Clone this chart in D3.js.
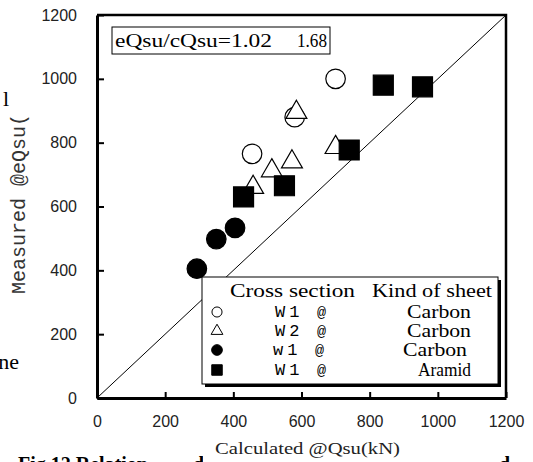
<!DOCTYPE html>
<html>
<head>
<meta charset="utf-8">
<script src="https://cdn.jsdelivr.net/npm/d3@7"></script>
<style>
  body { margin: 0; background: #fff; }
  svg { display: block; }
  .tick text { font-family: "Liberation Sans", Arial, sans-serif; font-size: 16px; fill: #222; }
  .serif { font-family: "Liberation Serif", "Times New Roman", serif; }
  .mono { font-family: "Liberation Mono", "Courier New", monospace; }
</style>
</head>
<body>
<svg id="chart" width="533" height="462"></svg>
<script>
// calculated Qsu (kN) vs measured eQsu (kN)
var w1CarbonX = [700, 580, 455];
var w1CarbonY = [1000, 880, 765];
var w2CarbonX = [585, 572, 513, 700, 458];
var w2CarbonY = [895, 740, 712, 785, 660];
var w1sCarbonX = [405, 350, 293];
var w1sCarbonY = [533, 498, 405];
var w1AramidX = [840, 955, 740, 550, 430];
var w1AramidY = [980, 975, 777, 665, 630];

var tickValues = [0, 200, 400, 600, 800, 1000, 1200];
var legendSection = ["W1", "W2", "w1", "W1"];
var legendSheet = ["Carbon", "Carbon", "Carbon", "Aramid"];

var svg = d3.select("#chart");

// caption of the page, mostly hidden below the figure
var cap = svg.append("text").attr("class", "serif")
  .attr("y", 471).attr("font-size", 20).attr("font-weight", "bold");
cap.append("tspan").attr("x", 18).text("Fig.12 Relation");
cap.append("tspan").attr("x", 193).text("d");
cap.append("tspan").attr("x", 499).text("d");

var x = d3.scaleLinear().domain([0, 1200]).range([97, 506]);
var y = d3.scaleLinear().domain([0, 1200]).range([398, 15]);

// 1:1 line
svg.append("line")
  .attr("x1", x(0)).attr("y1", y(0))
  .attr("x2", x(1200)).attr("y2", y(1200))
  .attr("stroke", "#000").attr("stroke-width", 1);

// frame top + right
svg.append("path")
  .attr("d", "M" + x(0) + "," + y(1200) + "H" + x(1200) + "V" + y(0))
  .attr("fill", "none").attr("stroke", "#000").attr("stroke-width", 2.5);

var xAxis = svg.append("g")
  .attr("transform", "translate(0," + y(0) + ")")
  .call(d3.axisBottom(x).tickValues(tickValues).tickFormat(d3.format("d"))
    .tickSizeInner(-6).tickSizeOuter(0).tickPadding(18));
var yAxis = svg.append("g")
  .attr("transform", "translate(" + x(0) + ",0)")
  .call(d3.axisLeft(y).tickValues(tickValues).tickFormat(d3.format("d"))
    .tickSizeInner(-7).tickSizeOuter(0).tickPadding(20));

[xAxis, yAxis].forEach(function (a) {
  a.select(".domain").attr("stroke-width", 3);
  a.selectAll(".tick line").attr("stroke-width", 2);
});

// points
function drawSet(xs, ys, type, size, filled) {
  svg.append("g").selectAll("path")
    .data(xs)
    .enter().append("path")
    .attr("transform", function (d, i) { return "translate(" + x(d) + "," + y(ys[i]) + ")"; })
    .attr("d", d3.symbol().type(type).size(size))
    .attr("fill", filled ? "#000" : "#fff")
    .attr("stroke", "#000")
    .attr("stroke-width", 1.2);
}
drawSet(w1CarbonX, w1CarbonY, d3.symbolCircle, 300, false);
drawSet(w2CarbonX, w2CarbonY, d3.symbolTriangle, 190, false);
drawSet(w1sCarbonX, w1sCarbonY, d3.symbolCircle, 300, true);
drawSet(w1AramidX, w1AramidY, d3.symbolSquare, 400, true);

// ratio box
svg.append("rect")
  .attr("x", 112).attr("y", 27).attr("width", 218).attr("height", 27)
  .attr("fill", "#fff").attr("stroke", "#000").attr("stroke-width", 1);
svg.append("text").attr("class", "serif")
  .attr("x", 115).attr("y", 47).attr("font-size", 18)
  .attr("textLength", 157).attr("lengthAdjust", "spacingAndGlyphs")
  .text("eQsu/cQsu=1.02");
svg.append("text").attr("class", "serif")
  .attr("x", 297).attr("y", 47).attr("font-size", 18)
  .attr("textLength", 30).attr("lengthAdjust", "spacingAndGlyphs")
  .text("1.68");

// legend
var lg = svg.append("g");
lg.append("rect")
  .attr("x", 205).attr("y", 280).attr("width", 296).attr("height", 107)
  .attr("fill", "#000");
lg.append("rect")
  .attr("x", 202).attr("y", 277).attr("width", 296).attr("height", 107)
  .attr("fill", "#fff").attr("stroke", "#000").attr("stroke-width", 1);
lg.append("text").attr("class", "serif")
  .attr("x", 230).attr("y", 297).attr("font-size", 18)
  .attr("textLength", 125).attr("lengthAdjust", "spacingAndGlyphs")
  .text("Cross section");
lg.append("text").attr("class", "serif")
  .attr("x", 372).attr("y", 297).attr("font-size", 18)
  .attr("textLength", 120).attr("lengthAdjust", "spacingAndGlyphs")
  .text("Kind of sheet");

var rowY = [312, 331, 350, 370];
var legTypes = [d3.symbolCircle, d3.symbolTriangle, d3.symbolCircle, d3.symbolSquare];
var legSizes = [80, 60, 90, 110];
var legFill = [false, false, true, true];
legendSection.forEach(function (s, i) {
  var dx = i == 2 ? -2 : 0;
  lg.append("path")
    .attr("transform", "translate(217," + rowY[i] + ")")
    .attr("d", d3.symbol().type(legTypes[i]).size(legSizes[i]))
    .attr("fill", legFill[i] ? "#000" : "#fff")
    .attr("stroke", "#000").attr("stroke-width", 1);
  lg.append("text").attr("class", "mono")
    .attr("x", 275 + dx).attr("y", rowY[i] + 5).attr("font-size", 17)
    .attr("letter-spacing", 4)
    .text(s);
  lg.append("text").attr("class", "mono")
    .attr("x", 317 + dx).attr("y", rowY[i] + 5).attr("font-size", 15)
    .text("@");
  lg.append("text").attr("class", "serif")
    .attr("x", 471 + dx * 2).attr("y", rowY[i] + 6).attr("font-size", 18)
    .attr("text-anchor", "end")
    .attr("textLength", legendSheet[i] == "Aramid" ? 53 : 64).attr("lengthAdjust", "spacingAndGlyphs")
    .text(legendSheet[i]);
});

// axis titles
svg.append("text").attr("class", "mono")
  .attr("transform", "translate(25,204) rotate(-90)")
  .attr("text-anchor", "middle").attr("font-size", 20).attr("fill", "#333")
  .text("Measured @eQsu(");
svg.append("rect")
  .attr("x", 203).attr("y", 437).attr("width", 294).attr("height", 25)
  .attr("fill", "#fff");
svg.append("text").attr("class", "serif")
  .attr("x", 215).attr("y", 454).attr("font-size", 17).attr("fill", "#222")
  .attr("textLength", 185).attr("lengthAdjust", "spacingAndGlyphs")
  .text("Calculated @Qsu(kN)");

// cropped words of the surrounding page
svg.append("text").attr("class", "serif")
  .attr("x", 9).attr("y", 106).attr("font-size", 22).attr("text-anchor", "end")
  .text("l");
svg.append("text").attr("class", "serif")
  .attr("x", 19).attr("y", 369).attr("font-size", 22).attr("text-anchor", "end")
  .text("ne");
</script>
</body>
</html>
